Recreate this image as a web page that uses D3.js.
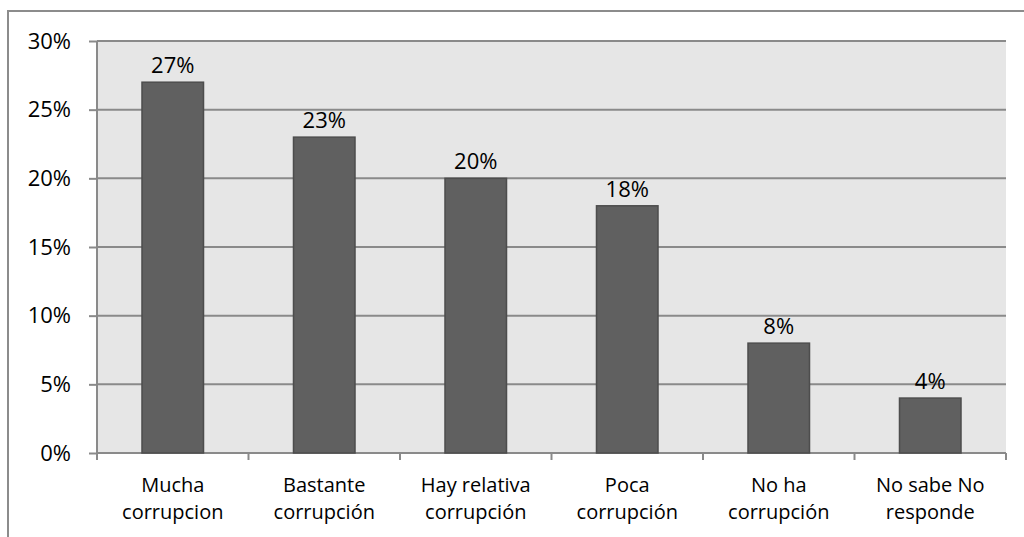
<!DOCTYPE html>
<html>
<head>
<meta charset="utf-8">
<script src="https://cdn.jsdelivr.net/npm/d3@7/dist/d3.min.js"></script>
<style>
  html, body { margin: 0; padding: 0; background: #fff; }
  svg { display: block; }
  text { font-family: "Open Sans", Lato, sans-serif; fill: #000; }
</style>
</head>
<body>
<svg id="chart" width="1024" height="537"></svg>
<script>
// Survey answers: perceived level of corruption
const categories = [
  ["Mucha", "corrupcion"],
  ["Bastante", "corrupción"],
  ["Hay relativa", "corrupción"],
  ["Poca", "corrupción"],
  ["No ha", "corrupción"],
  ["No sabe No", "responde"]
];
const values = [27, 23, 20, 18, 8, 4];
const yTicks = [0, 5, 10, 15, 20, 25, 30];

const svg = d3.select("#chart");
const W = 1024, H = 537;

// Outer chart frame (left and top edges visible)
svg.append("path")
  .attr("d", `M8,${H + 2} L8,11 L${W + 2},11`)
  .attr("fill", "none")
  .attr("stroke", "#8c8c8c")
  .attr("stroke-width", 2);

const plot = { left: 97, right: 1006, top: 41, bottom: 453 };

const x = d3.scaleBand()
  .domain(d3.range(categories.length))
  .range([plot.left, plot.right])
  .paddingInner(0).paddingOuter(0);

const y = d3.scaleLinear()
  .domain([0, 30])
  .range([plot.bottom, plot.top]);

// Plot area background
svg.append("rect")
  .attr("x", plot.left).attr("y", plot.top)
  .attr("width", plot.right - plot.left)
  .attr("height", plot.bottom - plot.top)
  .attr("fill", "#e6e6e6");

// Horizontal gridlines
svg.append("g")
  .selectAll("line")
  .data(yTicks.filter(d => d > 0))
  .join("line")
  .attr("x1", plot.left).attr("x2", plot.right)
  .attr("y1", d => y(d)).attr("y2", d => y(d))
  .attr("stroke", "#8a8a8a")
  .attr("stroke-width", 2);

// Y axis
const yAxis = svg.append("g")
  .attr("transform", `translate(${plot.left},0)`)
  .call(d3.axisLeft(y).tickValues(yTicks).tickFormat(d => d + "%").tickSizeInner(8).tickSizeOuter(0).tickPadding(18));
yAxis.select(".domain").attr("stroke", "#8a8a8a").attr("stroke-width", 2)
  .attr("d", `M0,${plot.top}V${plot.bottom + 7}`);
yAxis.selectAll(".tick line").attr("stroke", "#8a8a8a").attr("stroke-width", 2);
yAxis.selectAll(".tick text")
  .style("font-family", "'Open Sans', Lato, sans-serif")
  .attr("font-size", 22)
  .attr("fill", "#000");

// X axis baseline and category boundary ticks
const xg = svg.append("g");
xg.append("line")
  .attr("x1", plot.left).attr("x2", plot.right)
  .attr("y1", plot.bottom).attr("y2", plot.bottom)
  .attr("stroke", "#8a8a8a").attr("stroke-width", 2);
xg.selectAll("line.tk")
  .data(d3.range(categories.length + 1))
  .join("line")
  .attr("class", "tk")
  .attr("x1", i => plot.left + i * x.step())
  .attr("x2", i => plot.left + i * x.step())
  .attr("y1", plot.bottom).attr("y2", plot.bottom + 7)
  .attr("stroke", "#8a8a8a").attr("stroke-width", 2);

// Bars
const barW = x.bandwidth() * 0.406;
svg.append("g")
  .selectAll("rect")
  .data(values)
  .join("rect")
  .attr("x", (d, i) => x(i) + (x.bandwidth() - barW) / 2)
  .attr("y", d => y(d))
  .attr("width", barW)
  .attr("height", d => y(0) - y(d))
  .attr("fill", "#606060")
  .attr("stroke", "#4d4d4d")
  .attr("stroke-width", 1.5);

// Value labels
svg.append("g")
  .selectAll("text")
  .data(values)
  .join("text")
  .attr("x", (d, i) => x(i) + x.bandwidth() / 2)
  .attr("y", d => y(d) - 9)
  .attr("text-anchor", "middle")
  .attr("font-size", 22)
  .text(d => d + "%");

// Category labels (two lines each)
const cat = svg.append("g")
  .selectAll("text")
  .data(categories)
  .join("text")
  .attr("text-anchor", "middle")
  .attr("font-size", 20);
cat.selectAll("tspan")
  .data((d, i) => d.map(t => ({ t, i })))
  .join("tspan")
  .attr("x", d => x(d.i) + x.bandwidth() / 2)
  .attr("y", (d, j) => 492 + j * 26.5)
  .text(d => d.t);
</script>
</body>
</html>
